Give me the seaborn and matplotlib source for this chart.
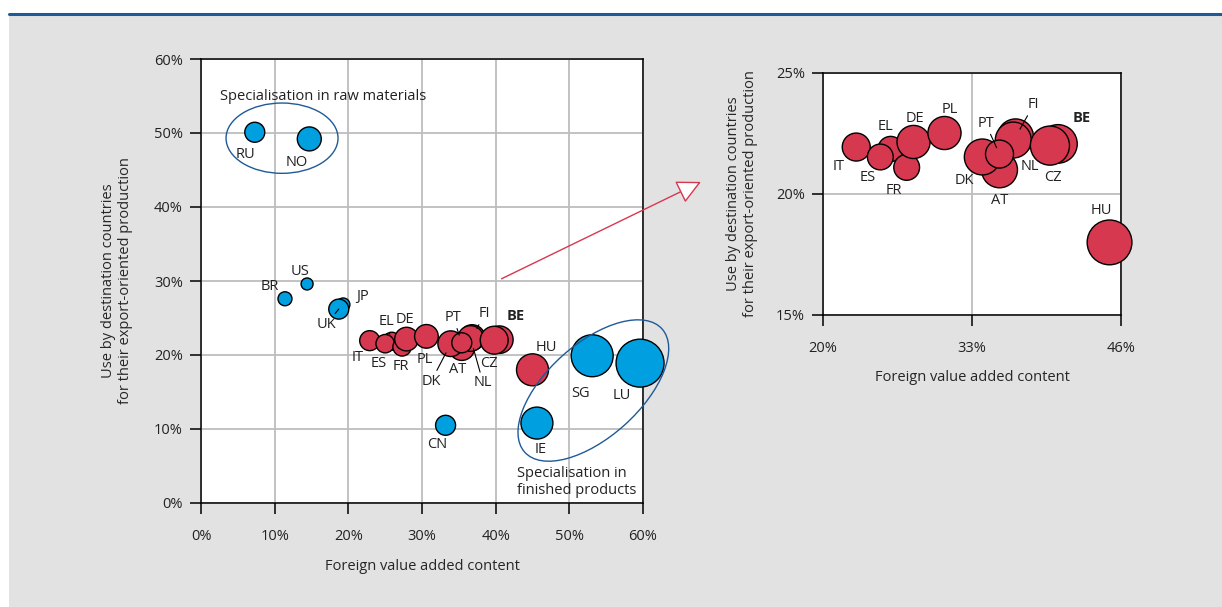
import numpy as np
import pandas as pd
import matplotlib
matplotlib.use("Agg")
import matplotlib.pyplot as plt
import seaborn as sns
from matplotlib.patches import Ellipse
from matplotlib.ticker import PercentFormatter

# data: foreign value added content (%), use by destination countries (%), bubble weight
countries = ["RU", "NO", "BR", "US", "JP", "UK", "CN", "IE", "SG", "LU",
             "IT", "EL", "ES", "FR", "DE", "PL", "AT", "DK", "FI", "NL", "PT", "BE", "CZ", "HU"]
group = ["other"] * 10 + ["EU"] * 14
fva = [7.3, 14.7, 11.4, 14.4, 19.3, 18.7, 33.2, 45.6, 53.1, 59.6,
       22.9, 25.9, 25.0, 27.3, 27.9, 30.6, 35.4, 33.9, 36.8, 36.6, 35.4, 40.5, 39.8, 45.0]
use = [50.1, 49.2, 27.6, 29.6, 26.8, 26.2, 10.5, 10.8, 19.9, 18.9,
       21.94, 21.86, 21.53, 21.1, 22.15, 22.52, 21.0, 21.53, 22.36, 22.23, 21.65, 22.07, 22.0, 18.0]
weight = [100, 144, 49, 36, 45, 100, 100, 256, 441, 576,
          100, 81, 85, 85, 140, 140, 165, 165, 165, 165, 100, 190, 195, 256]

df = pd.DataFrame({"country": countries, "group": group, "fva": fva, "use": use, "weight": weight})
eu = df[df["group"] == "EU"]

# label offsets (points) for each panel; leader lines for some
lab_main = {"RU": (-7, -16), "NO": (-9, -17), "BR": (-11, 9), "US": (-5, 9), "JP": (14, 6),
            "UK": (-9, -11), "CN": (-6, -14), "IE": (3, -19), "SG": (-8, -27), "LU": (-13, -23),
            "IT": (-9, -12), "ES": (-5, -14), "EL": (-4, 14), "FR": (-1, -14), "DE": (-1, 14),
            "PL": (-1, -17), "DK": (-14, -27), "AT": (-3, -16), "PT": (-6, 18), "FI": (9, 17),
            "NL": (9, -32), "CZ": (-4, -17), "BE": (12, 17), "HU": (10, 16)}
lead_main = {"DK", "PT", "FI", "NL", "EL", "UK"}
lab_zoom = {"IT": (-13, -14), "ES": (-9, -15), "EL": (-4, 16), "FR": (-9, -17), "DE": (1, 17),
            "PL": (4, 17), "DK": (-13, -17), "AT": (0, -22), "PT": (-10, 22), "FI": (13, 23),
            "NL": (12, -19), "CZ": (2, -23), "BE": (17, 19), "HU": (-6, 23)}
lead_zoom = {"PT", "FI"}

RED = "#d6384f"
BLUE = "#009fe0"
DARKBLUE = "#1f5a98"
BG = "#e2e2e2"
TXT = "#222222"
FS = 10.5
palette = {"EU": RED, "other": BLUE}

sns.set_style("ticks")
plt.rcParams["font.family"] = ["Open Sans", "DejaVu Sans"]
plt.rcParams["font.size"] = FS
plt.rcParams["text.color"] = TXT

fig = plt.figure(figsize=(12.22, 6.07), dpi=100)
fig.patch.set_facecolor("white")
fig.add_artist(plt.Rectangle((9 / 1222, 0), 1, 1 - 15 / 607, transform=fig.transFigure,
                             facecolor=BG, edgecolor="none", zorder=-5))
fig.add_artist(plt.Line2D([9 / 1222, 1], [1 - 14 / 607] * 2, color=DARKBLUE, lw=2.2, zorder=-4))

ax1 = fig.add_axes([201 / 1222, 1 - 503 / 607, 442 / 1222, 444 / 607])
ax2 = fig.add_axes([823 / 1222, 1 - 315 / 607, 298 / 1222, 242 / 607])


def style(ax):
    ax.set_facecolor("white")
    for sp in ax.spines.values():
        sp.set_visible(True)
        sp.set_color("black")
        sp.set_linewidth(1.1)
    ax.tick_params(direction="out", length=8, width=1.1, color="black", labelcolor=TXT,
                   labelsize=FS)
    ax.tick_params(axis="x", pad=11)
    ax.tick_params(axis="y", pad=5)
    ax.grid(True, color="#bdbdbd", lw=1.3)
    ax.set_axisbelow(True)
    ax.xaxis.set_major_formatter(PercentFormatter(decimals=0))
    ax.yaxis.set_major_formatter(PercentFormatter(decimals=0))


def labels(ax, data, offs, leads, scale, into):
    for _, r in data.iterrows():
        dx, dy = offs[r["country"]]
        weight_kw = "bold" if r["country"] == "BE" else "normal"
        arrow = None
        if r["country"] in leads:
            arrow = dict(arrowstyle="-", color="black", lw=0.8, shrinkA=0,
                         shrinkB=np.sqrt(r["weight"]) * scale * 0.5 * into)
        ax.annotate(r["country"], (r["fva"], r["use"]), xytext=(dx, dy),
                    textcoords="offset points", ha="center", va="center", fontsize=FS,
                    fontweight=weight_kw, zorder=5, arrowprops=arrow)


# main chart
style(ax1)
sns.scatterplot(data=df, x="fva", y="use", hue="group", palette=palette, s=df["weight"] * 2.07,
                edgecolor="black", linewidth=1.0, alpha=1, legend=False, ax=ax1, zorder=3,
                clip_on=False)
ax1.set_xlim(0, 60)
ax1.set_ylim(0, 60)
ax1.set_xticks(np.arange(0, 61, 10))
ax1.set_yticks(np.arange(0, 61, 10))
labels(ax1, df, lab_main, lead_main, 1.44, 0.8)
ax1.text(2.6, 55.0, "Specialisation in raw materials", ha="left", va="center", fontsize=FS)
ax1.add_patch(Ellipse((11.0, 49.3), 15.2, 9.5, fill=False, edgecolor=DARKBLUE, lw=1.0, zorder=4))
ax1.add_patch(Ellipse((53.26, 15.2), 25.0, 12.6, angle=41.7, fill=False, edgecolor=DARKBLUE,
                      lw=1.0, zorder=4, clip_on=False))
ax1.text(42.9, 2.8, "Specialisation in\nfinished products", ha="left", va="center", fontsize=FS,
         linespacing=1.2)
ax1.set_xlabel("Foreign value added content", fontsize=FS)
ax1.set_ylabel("Use by destination countries\nfor their export-oriented production", fontsize=FS)
ax1.xaxis.set_label_coords(0.5, -0.126)
ax1.yaxis.set_label_coords(-0.154, 0.5)

# zoomed chart
style(ax2)
sns.scatterplot(data=eu, x="fva", y="use", color=RED, s=eu["weight"] * 4.06,
                edgecolor="black", linewidth=1.0, alpha=1, legend=False, ax=ax2, zorder=3,
                clip_on=False)
ax2.set_xlim(20, 46)
ax2.set_ylim(15, 25)
ax2.set_xticks([20, 33, 46])
ax2.set_yticks([15, 20, 25])
labels(ax2, eu, lab_zoom, lead_zoom, 2.0, 0.5)
ax2.set_xlabel("Foreign value added content", fontsize=FS)
ax2.set_ylabel("Use by destination countries\nfor their export-oriented production", fontsize=FS)
ax2.xaxis.set_label_coords(0.5, -0.227)
ax2.yaxis.set_label_coords(-0.218, 0.5)

# arrow from main chart to zoomed chart
ax2.annotate("", xy=(9.35, 20.5), xycoords="data", xytext=(40.8, 30.3), textcoords=ax1.transData,
             annotation_clip=False,
             arrowprops=dict(arrowstyle="-|>,head_length=1.0,head_width=0.5", mutation_scale=15,
                             facecolor="white", edgecolor=RED, lw=1.0, shrinkA=0, shrinkB=0))

fig.savefig("out.png", dpi=100, facecolor=fig.get_facecolor())
